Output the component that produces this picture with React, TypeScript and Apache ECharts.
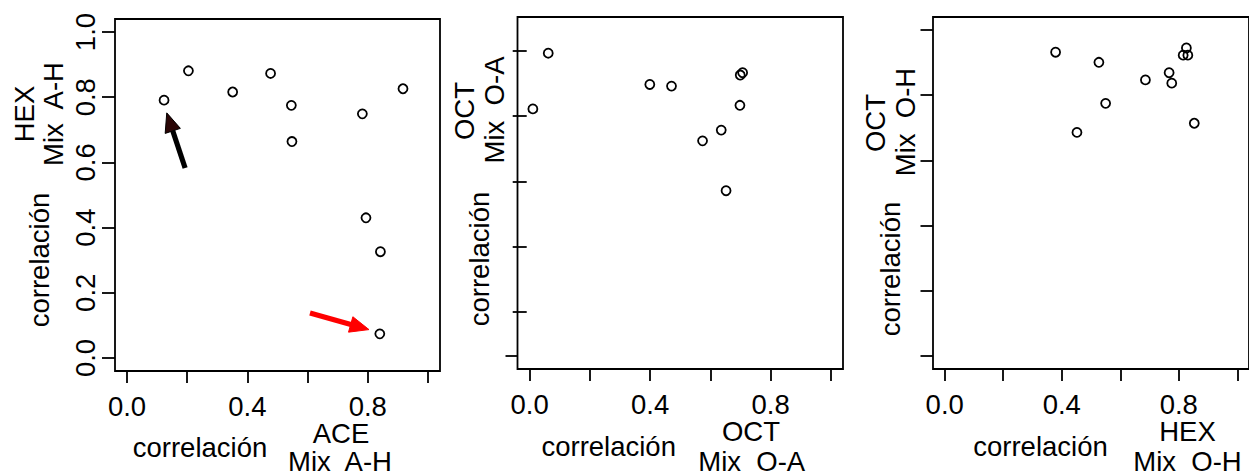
import React, { useEffect, useRef } from "react";
import * as echarts from "echarts";

// ---- data ----
const tickValues = [0, 0.2, 0.4, 0.6, 0.8, 1.0];
const xLabelValues = [0, 0.4, 0.8];
const yLabelValues = [0, 0.2, 0.4, 0.6, 0.8, 1.0];
const panel2OuterTicks = [0];
const panel2InnerTicks = [0.136, 0.336, 0.536, 0.736, 0.936];

// Panel 1: ACE (Mix A-H) vs HEX (Mix A-H)
const aceAH = [0.123, 0.204, 0.351, 0.477, 0.546, 0.548, 0.782, 0.794, 0.842, 0.84, 0.917];
const hexAH = [0.791, 0.881, 0.816, 0.873, 0.775, 0.664, 0.749, 0.43, 0.326, 0.074, 0.826];

// Panel 2: OCT (Mix O-A) vs OCT (Mix O-A)
const octOAx = [0.062, 0.011, 0.399, 0.471, 0.699, 0.707, 0.698, 0.636, 0.574, 0.652];
const octOAy = [0.929, 0.758, 0.833, 0.828, 0.862, 0.869, 0.769, 0.693, 0.66, 0.507];

// Panel 3: HEX (Mix O-H) vs OCT (Mix O-H)
const hexOHx = [0.379, 0.527, 0.55, 0.452, 0.686, 0.767, 0.776, 0.826, 0.815, 0.831, 0.853];
const octOHy = [0.932, 0.901, 0.775, 0.686, 0.847, 0.869, 0.837, 0.945, 0.923, 0.923, 0.714];

// Arrows (tail x, tail y, tip x, tip y) in panel-1 data units
const blackArrow = [0.193, 0.583, 0.132, 0.752];
const redArrow = [0.608, 0.138, 0.804, 0.087];

const FONT = '"Liberation Sans", Arial, Helvetica, sans-serif';
const FS = 27.5;

function zip(a: number[], b: number[]) {
  return a.map((v, i) => [v, b[i]]);
}

const grids = [
  { left: 115, top: 19, width: 325, height: 352 },
  { left: 517.5, top: 17, width: 325.5, height: 352 },
  { left: 933, top: 17, width: 325.5, height: 352 },
];

function xAxisOf(gridIndex: number) {
  return {
    type: "value",
    gridIndex,
    position: "bottom",
    min: -0.04,
    max: 1.04,
    axisLine: { show: false, onZero: false },
    splitLine: { show: false },
    axisTick: {
      show: true,
      length: 12,
      customValues: tickValues,
      lineStyle: { color: "#000", width: 1.8 },
    },
    axisLabel: {
      show: true,
      customValues: xLabelValues,
      formatter: (v: number) => v.toFixed(1),
      fontSize: FS,
      fontFamily: FONT,
      color: "#000",
      margin: 21,
    },
  };
}

function yAxisOf(gridIndex: number, ticks: number[], labels: number[] | null, offset = 0, len = 13) {
  return {
    type: "value",
    gridIndex,
    position: "left",
    min: -0.04,
    max: 1.04,
    offset,
    axisLine: { show: false, onZero: false },
    splitLine: { show: false },
    axisTick: {
      show: true,
      length: len,
      customValues: ticks,
      lineStyle: { color: "#000", width: 1.8 },
    },
    axisLabel: labels
      ? {
          show: true,
          customValues: labels,
          formatter: (v: number) => v.toFixed(1),
          rotate: 90,
          fontSize: FS,
          fontFamily: FONT,
          color: "#000",
          margin: 16,
        }
      : { show: false },
  };
}

function scatter(xi: number, yi: number, data: number[][]) {
  return {
    type: "scatter",
    xAxisIndex: xi,
    yAxisIndex: yi,
    data,
    symbol: "circle",
    symbolSize: 9,
    itemStyle: { color: "rgba(0,0,0,0)", borderColor: "#000", borderWidth: 1.8, opacity: 1 },
    emphasis: { disabled: true },
    z: 3,
  };
}

function arrowSeries(arr: number[], shaftColor: string, headColor: string) {
  return {
    type: "custom",
    xAxisIndex: 0,
    yAxisIndex: 0,
    clip: false,
    silent: true,
    data: [arr],
    encode: { x: [0, 2], y: [1, 3] },
    renderItem: (params: any, api: any) => {
      const p0 = api.coord([api.value(0), api.value(1)]);
      const p1 = api.coord([api.value(2), api.value(3)]);
      const dx = p1[0] - p0[0];
      const dy = p1[1] - p0[1];
      const len = Math.sqrt(dx * dx + dy * dy);
      const ux = dx / len;
      const uy = dy / len;
      const nx = -uy;
      const ny = ux;
      const headLen = 19;
      const headW = 8;
      const sw = 2.6;
      const bx = p1[0] - ux * headLen;
      const by = p1[1] - uy * headLen;
      const shaft = [
        [p0[0] + nx * sw, p0[1] + ny * sw],
        [bx + ux * 2 + nx * sw, by + uy * 2 + ny * sw],
        [bx + ux * 2 - nx * sw, by + uy * 2 - ny * sw],
        [p0[0] - nx * sw, p0[1] - ny * sw],
      ];
      const head = [
        [p1[0], p1[1]],
        [bx + nx * headW, by + ny * headW],
        [bx - nx * headW, by - ny * headW],
      ];
      return {
        type: "group",
        children: [
          { type: "polygon", shape: { points: shaft }, style: { fill: shaftColor } },
          {
            type: "polygon",
            shape: { points: head },
            style: { fill: headColor, stroke: shaftColor, lineWidth: 1 },
          },
        ],
      };
    },
    z: 4,
  };
}

type T = [string, number, number, boolean];
const titles: T[] = [
  ["correlación", 200, 447, false],
  ["ACE", 341, 433, false],
  ["Mix  A-H", 340, 461, false],
  ["HEX", 24, 114, true],
  ["Mix  A-H", 53, 114, true],
  ["correlación", 39, 260, true],
  ["correlación", 608.7, 446, false],
  ["OCT", 751, 431, false],
  ["Mix  O-A", 751.7, 461, false],
  ["OCT", 464, 111, true],
  ["Mix  O-A", 494, 110, true],
  ["correlación", 479, 259, true],
  ["correlación", 1040.5, 446, false],
  ["HEX", 1187.5, 431, false],
  ["Mix  O-H", 1187.5, 461, false],
  ["OCT", 875.6, 123, true],
  ["Mix  O-H", 905.6, 122, true],
  ["correlación", 890.6, 269, true],
];

export default function App() {
  const ref = useRef<HTMLDivElement>(null);
  useEffect(() => {
    if (!ref.current) return;
    const chart = echarts.init(ref.current, undefined, { renderer: "svg" });
    const option: any = {
      animation: false,
      backgroundColor: "#fff",
      grid: grids.map((g) => ({
        ...g,
        show: true,
        borderColor: "#000",
        borderWidth: 1.8,
        backgroundColor: "transparent",
      })),
      xAxis: [xAxisOf(0), xAxisOf(1), xAxisOf(2)],
      yAxis: [
        yAxisOf(0, tickValues, yLabelValues),
        yAxisOf(1, panel2OuterTicks, null, 0, 12),
        yAxisOf(2, tickValues, null, 0, 12.5),
        yAxisOf(1, panel2InnerTicks, null, -9.2, 14),
      ],
      series: [
        scatter(0, 0, zip(aceAH, hexAH)),
        scatter(1, 1, zip(octOAx, octOAy)),
        scatter(2, 2, zip(hexOHx, octOHy)),
        arrowSeries(blackArrow, "#000", "#2a0606"),
        arrowSeries(redArrow, "#ff0000", "#ff0000"),
      ],
      graphic: titles.map(([text, x, y, rot]) => ({
        type: "text",
        x,
        y,
        rotation: rot ? Math.PI / 2 : 0,
        style: {
          text,
          fill: "#000",
          fontSize: FS,
          fontFamily: FONT,
          align: "center",
          verticalAlign: "middle",
          textAlign: "center",
          textVerticalAlign: "middle",
        },
        silent: true,
      })),
    };
    chart.setOption(option);
    return () => chart.dispose();
  }, []);
  return (
    <div
      ref={ref}
      style={{ position: "absolute", left: 0, top: 0, width: 1249, height: 473, background: "#fff" }}
    />
  );
}
